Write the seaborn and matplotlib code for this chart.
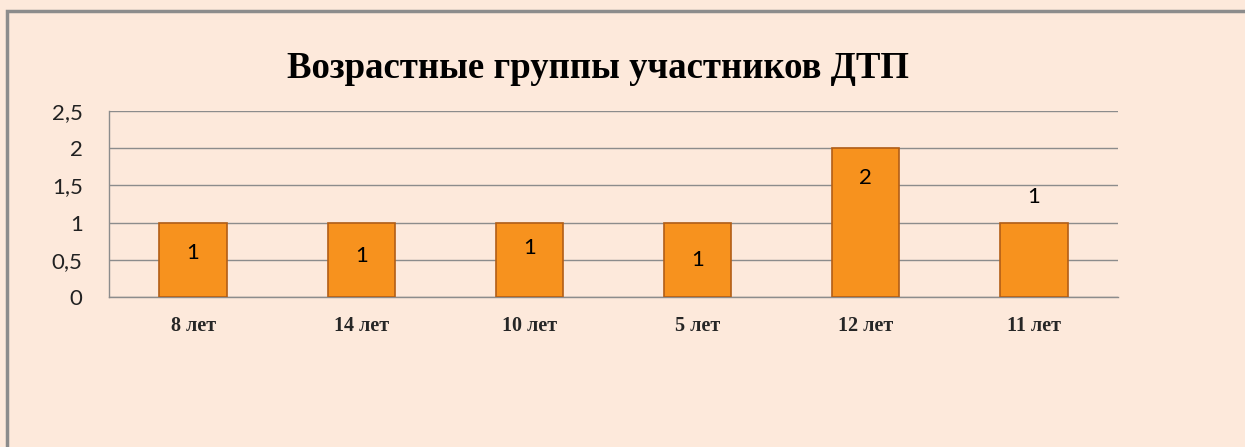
import pandas as pd
import seaborn as sns
import matplotlib.pyplot as plt
from matplotlib.patches import Rectangle

# data
ages = ['8 лет', '14 лет', '10 лет', '5 лет', '12 лет', '11 лет']
counts = [1, 1, 1, 1, 2, 1]
ytick_vals = [0, 0.5, 1, 1.5, 2, 2.5]
ytick_labels = ['0', '0,5', '1', '1,5', '2', '2,5']
title = 'Возрастные группы участников ДТП'
# where each value label sits (in data units), as in the original
label_y = [0.59, 0.55, 0.66, 0.50, 1.60, 1.34]

bg = '#FDE9DB'
grid_c = '#8C8C8C'

df = pd.DataFrame({'age': ages, 'count': counts})

sns.set_style('white')
plt.rcParams['font.family'] = ['Lato', 'DejaVu Sans']

fig = plt.figure(figsize=(12.45, 4.47), dpi=100, facecolor=bg)
ax = fig.add_axes([109 / 1245, 1 - 297 / 447, 1009 / 1245, 186 / 447])
ax.set_facecolor(bg)

sns.barplot(data=df, x='age', y='count', color='#F7921E', width=0.4,
            saturation=1, edgecolor='#B25E17', linewidth=1.2, ax=ax, zorder=3)

for i, (v, ly) in enumerate(zip(counts, label_y)):
    ax.text(i, ly, str(v), ha='center', va='center', fontsize=16,
            color='black', zorder=4)

ax.set_ylim(0, 2.5)
ax.set_xlim(-0.5, len(ages) - 0.5)
ax.set_yticks(ytick_vals)
ax.set_yticklabels(ytick_labels, fontsize=16, color='#222222')
ax.yaxis.grid(True, color=grid_c, linewidth=1, zorder=0)
ax.set_axisbelow(True)

ax.set_xticks(range(len(ages)))
ax.set_xticklabels(ages, fontsize=14.5, fontweight='bold', family='Liberation Serif')
ax.tick_params(axis='x', length=0, pad=14)
ax.set_xticks([i - 0.5 for i in range(len(ages) + 1)], minor=True)
ax.tick_params(axis='x', which='minor', length=6, color=grid_c, direction='out')
ax.tick_params(axis='y', length=9, color=grid_c, direction='out', pad=10)

ax.set_xlabel('')
ax.set_ylabel('')
for s in ['top', 'right']:
    ax.spines[s].set_visible(False)
for s in ['left', 'bottom']:
    ax.spines[s].set_color(grid_c)
    ax.spines[s].set_linewidth(1)

fig.text(598 / 1245, 1 - 68 / 447, title, ha='center', va='center',
         fontsize=26.5, fontweight='bold', family='Liberation Serif', color='black')

fig.patches.append(Rectangle((7 / 1245, -0.05), 1.05, 1 - 11 / 447 + 0.05,
                             transform=fig.transFigure, fill=False,
                             edgecolor='#8C8C8C', linewidth=2.5))

fig.savefig('out.png', dpi=100, facecolor=bg)
